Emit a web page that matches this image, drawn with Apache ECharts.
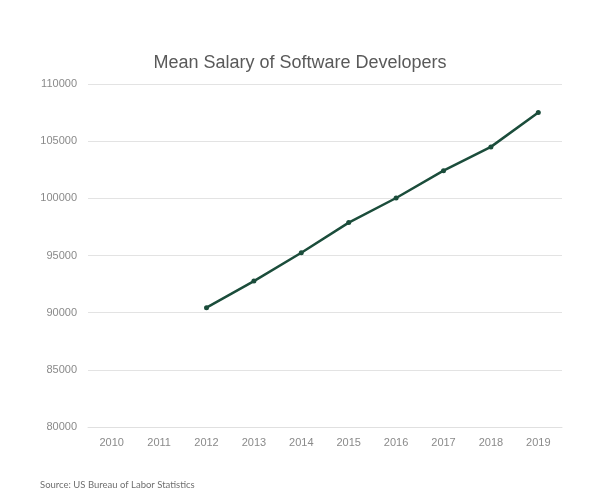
<!DOCTYPE html>
<html><head><meta charset="utf-8">
<script src="https://cdn.jsdelivr.net/npm/echarts@6/dist/echarts.min.js"></script>
<style>html,body{margin:0;padding:0;background:#fff}#c{width:600px;height:500px}</style>
</head><body><div id="c"></div>
<script>
const years = ['2010','2011','2012','2013','2014','2015','2016','2017','2018','2019'];
const salary = [null, null, 90440, 92760, 95240, 97880, 100030, 102420, 104500, 107510];
const chart = echarts.init(document.getElementById('c'));
chart.setOption({
  backgroundColor: '#fff',
  animation: false,
  title: [{
    text: 'Mean Salary of Software Developers',
    left: 'center', top: 49,
    textStyle: {fontFamily: 'Liberation Sans, Arial', fontWeight: 'normal', fontSize: 18, color: '#595959'}
  }, {
    text: 'Source: US Bureau of Labor Statistics',
    left: 40, top: 480, padding: 0,
    textStyle: {fontFamily: 'Lato', fontWeight: 'normal', fontSize: 9.5, color: '#6f6f6f'}
  }],
  grid: {left: 88, right: 38, top: 84, bottom: 73},
  xAxis: {
    type: 'category', data: years, boundaryGap: true,
    axisLine: {show: true, lineStyle: {color: '#e0e0e0', width: 1}},
    axisTick: {show: false},
    axisLabel: {color: '#8a8a8a', fontSize: 11, fontFamily: 'Liberation Sans, Arial', margin: 10}
  },
  yAxis: {
    type: 'value', min: 80000, max: 110000, interval: 5000,
    axisLine: {show: false}, axisTick: {show: false},
    axisLabel: {color: '#8a8a8a', fontSize: 11, fontFamily: 'Liberation Sans, Arial', margin: 11,
      formatter: function (v) { return String(v); }},
    splitLine: {lineStyle: {color: '#e3e3e3', width: 1}}
  },
  series: [{
    type: 'line', data: salary, connectNulls: false,
    lineStyle: {color: '#1b4d3b', width: 2.5},
    itemStyle: {color: '#1b4d3b'},
    symbol: 'circle', symbolSize: 5, showSymbol: true
  }]
});
</script></body></html>
